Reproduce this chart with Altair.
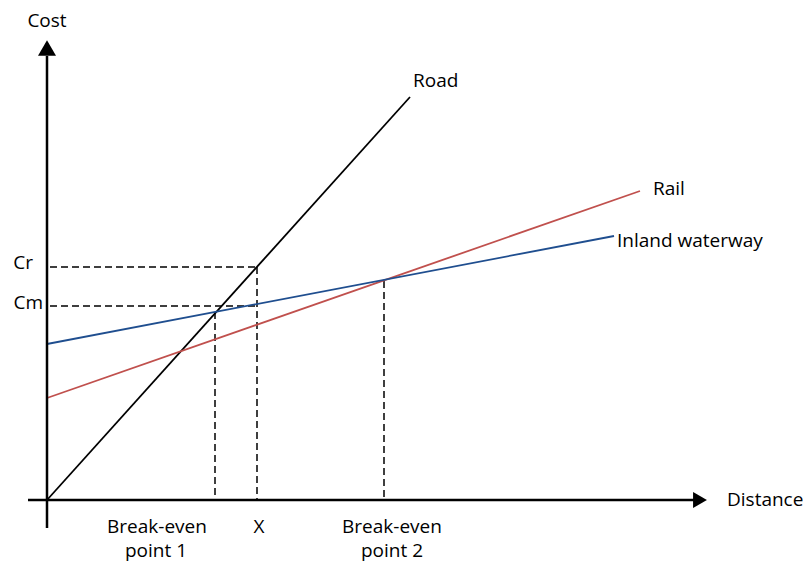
import altair as alt
import pandas as pd

# Cost lines (distance, cost) in chart units
road_x = [0, 363]
road_y = [0, 403]
rail_x = [0, 593]
rail_y = [102, 309]
water_x = [0, 567]
water_y = [156, 264]

# Dashed reference lines: (x, y, x2, y2)
dash_x = [3, 210, 3, 168, 337]
dash_y = [233, 233, 194, 188, 219]
dash_x2 = [210, 210, 210, 168, 337]
dash_y2 = [233, 0, 194, 0, 0]

# Axis lines
axis_x = [0, -19]
axis_y = [-28, 0]
axis_x2 = [0, 648]
axis_y2 = [444, 0]

# Labels
left_labels = ["Road", "Rail", "Inland waterway", "Distance"]
left_x = [366, 606, 570, 680]
left_y = [413, 305, 253, -6]
right_labels = ["Cr", "Cm"]
right_x = [-14, -4]
right_y = [231, 191]
center_labels = ["Cost", "Break-even", "point 1", "X", "Break-even", "point 2"]
center_x = [0, 110, 109, 212, 345, 345]
center_y = [473, -33, -57, -33, -33, -57]

FONT = "Open Sans"
FS = 19

xs = alt.Scale(domain=[-39, 756], nice=False, zero=False)
ys = alt.Scale(domain=[-66, 492], nice=False, zero=False)

lines = pd.DataFrame({
    "series": ["Road"] * 2 + ["Rail"] * 2 + ["Inland waterway"] * 2,
    "x": road_x + rail_x + water_x,
    "y": road_y + rail_y + water_y,
})
dashes = pd.DataFrame({"x": dash_x, "y": dash_y, "x2": dash_x2, "y2": dash_y2})
axes = pd.DataFrame({"x": axis_x, "y": axis_y, "x2": axis_x2, "y2": axis_y2})
arrows_up = pd.DataFrame({"x": [0], "y": [452]})
arrows_right = pd.DataFrame({"x": [653], "y": [0]})
lt = pd.DataFrame({"label": left_labels, "x": left_x, "y": left_y})
rt = pd.DataFrame({"label": right_labels, "x": right_x, "y": right_y})
ct = pd.DataFrame({"label": center_labels, "x": center_x, "y": center_y})

X = alt.X("x:Q", scale=xs, axis=None)
Y = alt.Y("y:Q", scale=ys, axis=None)

dash_layer = alt.Chart(dashes).mark_rule(
    color="black", strokeWidth=1.5, strokeDash=[7, 4]
).encode(x=X, y=Y, x2="x2:Q", y2="y2:Q")

line_layer = alt.Chart(lines).mark_line(strokeWidth=1.8).encode(
    x=X, y=Y, detail="series:N",
    color=alt.Color("series:N", scale=alt.Scale(
        domain=["Road", "Rail", "Inland waterway"],
        range=["#000000", "#c0504d", "#1f4e8f"]), legend=None),
)

axis_layer = alt.Chart(axes).mark_rule(color="black", strokeWidth=2.5).encode(
    x=X, y=Y, x2="x2:Q", y2="y2:Q")

up = alt.Chart(arrows_up).mark_point(
    shape="triangle-up", size=324, filled=True, color="black", opacity=1
).encode(x=X, y=Y)
right = alt.Chart(arrows_right).mark_point(
    shape="triangle-right", size=256, filled=True, color="black", opacity=1
).encode(x=X, y=Y)

def txt(df, align):
    return alt.Chart(df).mark_text(
        align=align, baseline="alphabetic", font=FONT, fontSize=FS, color="black"
    ).encode(x=X, y=Y, text="label:N")

chart = alt.layer(
    dash_layer, line_layer, axis_layer, up, right,
    txt(lt, "left"), txt(rt, "right"), txt(ct, "center"),
).properties(
    width=795, height=558, padding=0,
    autosize=alt.AutoSizeParams(type="none"),
).configure_view(stroke=None)

chart.save("out.html", embed_options={"renderer": "svg", "actions": False})
